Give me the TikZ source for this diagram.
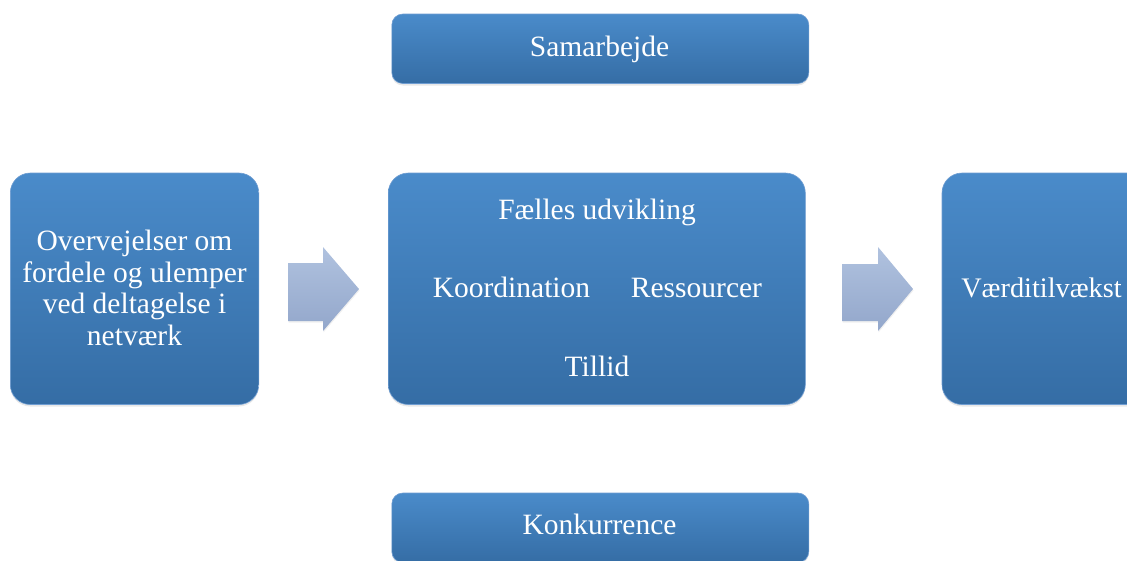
\documentclass[tikz,border=0pt]{standalone}
\usepackage{fontspec}
\setmainfont{Liberation Serif}
\usetikzlibrary{shadows}
\definecolor{boxtop}{HTML}{4A8BCA}
\definecolor{boxbot}{HTML}{356DA5}
\definecolor{boxedge}{HTML}{6F9DD2}
\definecolor{arrtop}{HTML}{B0C2DF}
\definecolor{arrbot}{HTML}{93A7CB}
\tikzset{
  blockbox/.style={rectangle, inner sep=0pt, anchor=north west,
    top color=boxtop, bottom color=boxbot, draw=boxedge, line width=0.6pt,
    drop shadow={shadow xshift=0pt, shadow yshift=-2pt, opacity=0.18}},
  bigbox/.style={blockbox, rounded corners=20pt, minimum height=231.5pt},
  barbox/.style={blockbox, rounded corners=11pt, minimum width=417pt, minimum height=69.5pt},
  lbl/.style={text=white, font=\fontsize{29.5}{31.5}\selectfont, inner sep=0pt, anchor=base},
  blockarrow/.style={top color=arrtop, bottom color=arrbot,
    drop shadow={shadow xshift=0.5pt, shadow yshift=-1.5pt, opacity=0.12}}
}
\begin{document}
\begin{tikzpicture}[x=1pt,y=-1pt]
\useasboundingbox (0,0) rectangle (1127,560);
\clip (0,0) rectangle (1127,560);
% boxes
\node[barbox] (sam) at (391.5,13.7) {};
\node[bigbox, minimum width=248.5pt] (ove) at (10,172.7) {};
\node[bigbox, minimum width=417pt] (mid) at (388,172.7) {};
\node[bigbox, minimum width=215pt] (vaer) at (941.7,172.7) {};
\node[barbox] (kon) at (391.5,492.7) {};
% labels
\node[lbl] (samt) at (599.5,56.7) {Samarbejde};
\node[lbl, anchor=center, align=center] (ovet) at (134.5,288) {Overvejelser om\\fordele og ulemper\\ved deltagelse i\\netværk};
\node[lbl] (fael) at (597,219.3) {Fælles udvikling};
\node[lbl] (koor) at (511.5,297.3) {Koordination};
\node[lbl] (ress) at (696.5,297.3) {Ressourcer};
\node[lbl] (till) at (597,376.7) {Tillid};
\node[lbl, font=\fontsize{28.3}{31.5}\selectfont] (vaert) at (1041.5,297.7) {Værditilvækst};
\node[lbl] (kont) at (599.5,534) {Konkurrence};
% block arrows
\path[blockarrow] (288,263) -- (323,263) -- (323,247) -- (359,289) -- (323,331) -- (323,321) -- (288,321) -- cycle;
\path[blockarrow] (842,264) -- (878,264) -- (878,247) -- (913,289) -- (878,331) -- (878,321) -- (842,321) -- cycle;
\end{tikzpicture}
\end{document}
